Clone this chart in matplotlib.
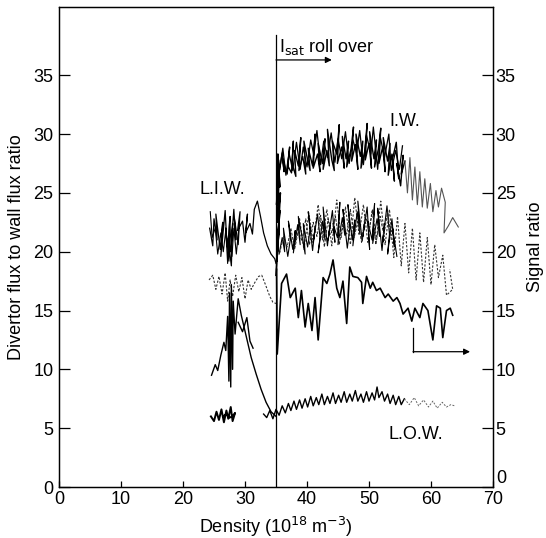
import matplotlib
matplotlib.use('Agg')
import matplotlib.pyplot as plt

plt.rcParams['font.family'] = ['Liberation Sans', 'DejaVu Sans']

# ---------------- data ----------------
x_ticks = [0, 10, 20, 30, 40, 50, 60, 70]
y_ticks = [0, 5, 10, 15, 20, 25, 30, 35]

# I.W. scribble (solid black), forward and backward passes
IW = [(35.2,26.0),(35.6,27.4),(35.4,26.4),(36.0,28.4),(36.3,26.8),(36.1,27.9),(36.8,26.6),(37.2,28.9),
      (36.9,27.3),(37.5,26.7),(37.8,29.4),(37.6,27.5),(38.2,26.4),(38.0,28.6),(38.6,27.3),(39.0,29.7),
      (38.7,26.9),(39.3,28.1),(39.8,26.6),(39.5,29.4),(40.1,27.8),(40.5,26.9),(40.2,28.8),(40.9,27.3),
      (41.3,30.0),(41.0,27.1),(41.7,28.3),(42.1,26.8),(41.8,29.2),(42.5,27.5),(42.9,29.6),(42.6,27.0),
      (43.2,28.6),(43.6,27.3),(43.3,30.4),(44.0,27.8),(44.4,26.9),(44.1,29.4),(44.8,28.3),(45.2,30.8),
      (44.9,27.5),(45.6,28.9),(46.0,27.1),(45.7,29.8),(46.3,27.9),(46.7,29.4),(46.4,27.2),(47.1,28.7),
      (47.5,30.6),(47.2,27.7),(47.8,29.1),(48.2,27.0),(47.9,30.0),(48.6,28.1),(49.0,29.4),(48.7,27.1),
      (49.3,28.5),(49.7,30.9),(49.4,27.8),(50.0,29.2),(50.4,27.1),(50.1,30.2),(50.8,27.9),(51.2,29.5),
      (50.9,27.2),(51.5,28.7),(51.9,30.5),(51.6,27.5),(52.2,28.9),(52.6,26.8),(52.3,29.7),(53.0,27.7),
      (53.4,29.2),(53.1,26.5),(53.7,28.3),(54.1,26.0),(53.8,27.9),(54.4,29.3),(54.8,26.2),(54.5,27.5),
      (55.1,25.6),(55.5,28.2),(55.2,26.6),(55.8,27.7)]
IW_back = [(55.4,29.0),(54.9,27.0),(54.3,28.6),(53.6,26.9),(53.2,30.0),(52.5,28.0),(51.8,29.8),(51.4,27.0),
           (50.7,30.6),(50.3,28.3),(49.6,29.9),(49.1,27.4),(48.5,30.3),(48.0,28.4),(47.4,29.5),(46.8,27.5),
           (46.2,30.2),(45.6,27.9),(45.0,29.6),(44.5,27.6),(43.9,30.1),(43.3,28.0),(42.7,29.4),(42.2,27.4),
           (41.6,30.3),(41.1,28.2),(40.6,29.5),(40.0,27.2),(39.4,28.9),(38.9,27.0),(38.3,29.3),(37.7,26.9),
           (37.1,28.4),(36.6,26.5),(36.1,28.8),(35.6,27.0)]

# I.W. tail (thin grey)
IW_tail = [(55.8,27.7),(56.2,25.0),(56.6,28.0),(57.0,24.4),(57.4,27.2),(57.8,24.0),(58.2,26.8),(58.6,23.8),
           (59.0,26.2),(59.4,23.7),(59.9,25.8),(60.3,23.4),(60.8,25.2),(61.2,23.8),(61.7,25.4),(62.3,24.2),
           (62.1,21.6),(62.8,22.2),(63.5,22.9),(64.4,22.1)]

# dense vertical cluster at the roll-over density
ROLL = [(35.0,18.0),(35.3,20.5),(35.1,19.2),(35.5,22.0),(35.2,20.0),(35.6,23.5),(35.3,21.0),(35.7,25.0),
        (35.2,22.5),(35.5,26.5),(35.1,24.0),(35.4,27.8),(35.6,25.5),(35.3,28.3),(35.5,26.0)]

# middle band (solid parts)
MID = [(35.5,19.8),(36.0,21.2),(36.4,20.0),(36.2,22.0),(36.9,19.6),(37.3,21.0),(37.0,22.6),(37.7,20.2),
       (38.1,21.8),(37.8,19.9),(38.5,22.3),(38.9,20.6),(38.6,23.0),(39.3,21.0),(39.7,19.8),(39.4,22.4),
       (40.1,20.4),(40.5,21.9),(40.2,23.4),(40.9,20.1),(41.3,22.0),(41.0,20.8),(41.7,23.2),(42.1,21.2),
       (41.8,19.9),(42.5,22.6),(42.9,21.0),(42.6,23.8),(43.3,20.5),(43.7,22.2),(43.4,21.0),(44.1,23.5),
       (44.5,20.8),(44.2,22.4),(44.9,21.2),(45.3,24.2),(45.0,20.6),(45.7,22.9),(46.1,21.4),(45.8,23.6),
       (46.5,20.3),(46.9,22.0),(46.6,24.0),(47.3,21.0),(47.7,22.7),(47.4,20.5),(48.1,23.4),(48.5,21.6),
       (48.2,24.3),(48.9,20.9),(49.3,22.5),(49.0,21.3),(49.7,23.8),(50.1,20.2),(49.8,22.6),(50.5,21.0),
       (50.9,24.1),(50.6,20.7),(51.3,22.8),(51.7,21.3),(51.4,23.7),(52.1,20.1),(52.5,22.4),(52.2,20.8),
       (52.9,23.9),(53.3,21.5),(53.0,19.8),(53.7,22.8),(54.1,20.4),(53.8,22.0),(54.5,19.6)]
MID_back = [(53.6,21.0),(53.0,23.4),(52.4,21.4),(51.8,23.0),(51.1,20.6),(50.6,23.6),(50.0,21.8),(49.4,23.2),
            (48.8,20.8),(48.2,22.6),(47.6,21.2),(47.0,23.6),(46.4,21.5),(45.8,22.4),(45.2,20.6),(44.6,23.0),
            (44.0,21.6),(43.4,22.8),(42.8,20.4),(42.2,23.1),(41.6,21.3),(41.0,22.5),(40.4,20.6),(39.8,22.8),
            (39.2,20.9),(38.6,21.8),(38.0,20.2),(37.4,22.0),(36.8,20.4),(36.2,21.3),(35.6,19.9)]

# middle band (dashed part)
MID_dash = [(38.0,20.5),(38.8,22.8),(39.5,20.2),(40.3,23.3),(41.0,20.8),(41.8,24.0),(42.5,21.0),(43.2,23.6),
            (44.0,20.5),(44.8,24.4),(45.5,21.2),(46.2,23.8),(47.0,20.6),(47.7,24.6),(48.4,21.4),(49.1,24.0),
            (49.8,20.8),(50.5,23.5),(51.2,21.0),(51.9,24.3),(52.6,20.6),(53.3,23.6),(54.0,19.5),(54.6,23.0),
            (55.2,18.8),(55.8,22.4),(56.4,18.2),(57.0,22.0),(57.6,17.6),(58.2,21.6),(58.8,17.4),(59.4,21.2),
            (60.0,17.2),(60.6,20.6),(61.2,17.8),(61.9,19.7),(62.5,16.3),(63.5,16.8),(63.0,18.5)]

# L.I.W. scribble (solid) and its decay to the roll-over line
LIW = [(24.3,22.0),(24.8,20.5),(25.0,22.8),(25.5,21.0),(25.3,23.2),(26.0,20.2),(26.4,22.5),(26.1,19.6),
       (26.8,23.5),(27.1,20.4),(26.9,22.0),(27.4,19.2),(27.6,23.0),(27.3,21.0),(27.8,18.8),(28.0,22.4),
       (27.7,20.0),(28.2,23.6),(28.5,21.0),(28.3,22.8),(28.9,20.6),(29.2,23.4),(28.8,21.8),(29.6,22.6),
       (30.0,20.8),(30.4,23.2),(30.1,21.6),(30.8,22.4),(31.2,21.5),(31.5,23.6),(32.0,24.3),(32.5,23.0),
       (33.0,21.6),(33.6,20.5),(34.2,19.8),(34.8,19.4),(35.0,19.0)]
LIW_back = [(29.0,22.0),(28.6,19.8),(28.2,22.0),(27.9,19.6),(27.5,22.6),(27.2,19.0),(26.9,21.8),(26.5,20.0),
            (26.1,21.6),(25.6,19.8),(25.2,22.0),(24.7,21.2),(24.4,23.4)]

# L.I.W. lower dashed scribble
LIW_dash = [(24.2,17.6),(24.8,18.0),(25.3,16.8),(25.8,17.9),(26.3,16.4),(26.8,18.2),(27.2,15.8),(27.6,17.6),
            (28.0,16.2),(28.5,18.0),(29.0,16.6),(29.5,17.8),(30.0,16.0),(30.5,17.6),(31.0,16.8),(31.6,17.4),
            (32.2,17.9),(32.7,18.0),(33.3,17.2),(34.0,16.2),(34.5,15.7),(35.0,15.6)]

# signal ratio trace (solid), left part, bump and right part
SIG_left = [(24.6,9.5),(25.2,10.4),(25.6,9.9),(26.1,11.2),(26.6,12.3),(26.9,11.6),(27.2,14.5),(27.4,9.0),
            (27.5,16.5),(27.7,8.5),(27.8,17.2),(28.0,10.0),(28.1,15.8),(28.4,13.0),(28.9,16.0),(29.4,14.6),
            (30.2,12.8),(31.0,11.0),(31.8,9.6),(32.6,8.3),(33.4,7.2),(34.2,6.4),(35.0,6.0)]
SIG_bump = [(28.9,14.0),(29.6,13.2),(30.3,14.4),(30.8,12.4),(31.3,11.8)]
SIG_right = [(35.1,18.5),(35.2,11.3),(35.9,17.3),(36.7,18.1),(37.3,16.1),(38.1,16.9),(38.6,14.4),(39.1,16.7),
             (39.7,13.6),(40.2,15.6),(40.8,13.3),(41.3,16.1),(41.8,12.5),(42.6,17.8),(43.2,17.3),(43.7,18.1),
             (44.2,19.3),(44.8,16.9),(45.3,16.1),(45.8,17.5),(46.4,13.9),(46.9,18.7),(47.4,17.9),(48.2,17.8),
             (48.8,17.4),(49.0,15.6),(49.6,17.9),(50.2,16.9),(50.6,17.4),(51.2,16.7),(51.8,16.9),(52.6,16.1),
             (53.1,16.4),(53.9,15.8),(54.5,16.1),(55.0,15.6),(55.5,14.7),(56.3,15.2),(56.9,14.1),(57.4,15.2),
             (58.2,14.4),(58.7,15.6),(59.5,15.0),(60.3,12.5),(60.9,15.4),(61.5,15.2),(61.9,12.7),(62.5,15.0),
             (63.1,15.2),(63.5,14.6)]

# L.O.W. scribbles
LOW_left = [(24.5,6.0),(25.0,5.6),(25.4,6.4),(25.8,5.7),(26.2,6.6),(26.6,5.5),(27.0,6.5),(27.3,5.8),
            (27.7,6.8),(28.0,5.6),(28.4,6.3),(28.0,6.0),(27.5,5.9),(27.0,6.2),(26.5,6.0)]
LOW_right = [(33.0,6.2),(33.5,5.9),(34.0,6.5),(34.5,5.8),(35.0,6.6),(35.5,6.1),(36.0,6.9),(36.5,6.3),
             (37.0,7.1),(37.4,6.5),(37.9,7.3),(38.3,6.6),(38.8,7.4),(39.2,6.7),(39.7,7.5),(40.1,6.8),
             (40.6,7.7),(41.0,6.9),(41.5,7.6),(41.9,7.0),(42.4,7.9),(42.8,7.0),(43.3,7.7),(43.7,7.1),
             (44.2,8.0),(44.6,7.1),(45.1,7.8),(45.5,7.2),(46.0,8.1),(46.4,7.2),(46.9,7.9),(47.3,7.3),
             (47.8,8.2),(48.2,7.3),(48.7,7.9),(49.1,7.2),(49.6,8.1),(50.0,7.3),(50.5,8.0),(50.9,7.4),
             (51.3,8.5),(51.6,7.6),(52.1,8.1),(52.5,7.3),(53.0,7.9),(53.4,7.1),(53.9,7.8),(54.3,7.0),
             (54.8,7.7),(55.2,7.0),(55.7,7.5)]
LOW_tail = [(55.7,7.5),(56.5,7.0),(57.3,7.6),(58.0,6.9),(58.8,7.4),(59.6,6.8),(60.3,7.3),(61.0,6.7),
            (61.8,7.2),(62.5,6.8),(63.2,7.0),(63.8,6.9)]

rollover_density = 35
trace_labels = [("I.W.", 55.8, 31.1), ("L.I.W.", 26.4, 25.3), ("L.O.W.", 57.6, 4.5)]

# ---------------- figure ----------------
W, H = 546, 538
fig = plt.figure(figsize=(W/100, H/100), dpi=100)
ax = fig.add_axes([59/W, 1-487/H, (493-59)/W, (487-7)/H])
ax.set_xlim(0, 70)
ax.set_ylim(0, 40.8)

def draw(pts, **kw):
    xs, ys = zip(*pts)
    ax.plot(xs, ys, **kw)

draw(LIW, color='black', lw=0.9)
draw(LIW_back, color='black', lw=0.8)
draw(LIW_dash, color='#333333', lw=0.8, ls=(0, (2, 1.5)))
draw(MID_dash, color='#333333', lw=0.8, ls=(0, (2, 1.5)))
draw(MID, color='black', lw=0.8)
draw(MID_back, color='#222222', lw=0.7, ls=(0, (3, 1.5)))
draw(IW, color='black', lw=1.0)
draw(IW_back, color='black', lw=0.9)
draw(IW_tail, color='#555555', lw=0.8)
draw(ROLL, color='black', lw=1.2)
draw(SIG_left, color='black', lw=1.0)
draw(SIG_bump, color='black', lw=1.0)
draw(SIG_right, color='black', lw=1.2)
draw(LOW_left, color='black', lw=1.4)
draw(LOW_right, color='black', lw=1.0)
draw(LOW_tail, color='#666666', lw=0.7, ls=(0, (2, 1.5)))

# roll-over line and annotation
ax.plot([rollover_density, rollover_density], [0, 38.4], color='black', lw=0.9)
ax.annotate('', xy=(44.0, 36.3), xytext=(rollover_density, 36.3),
            arrowprops=dict(arrowstyle='-|>', color='black', lw=0.9, mutation_scale=9,
                            shrinkA=0, shrinkB=0))
ax.text(35.5, 37.4, r'I$_{\mathrm{sat}}$ roll over', fontsize=13, ha='left', va='center')

# arrow pointing the signal trace to the right axis
ax.plot([57.1, 57.1], [13.5, 11.5], color='black', lw=0.9)
ax.annotate('', xy=(66.3, 11.5), xytext=(57.1, 11.5),
            arrowprops=dict(arrowstyle='-|>', color='black', lw=0.9, mutation_scale=9,
                            shrinkA=0, shrinkB=0))

for txt, tx, ty in trace_labels:
    ax.text(tx, ty, txt, fontsize=13, ha='center', va='center')

ax.set_xticks(x_ticks)
ax.set_xticklabels([str(v) for v in x_ticks])
ax.set_yticks(y_ticks)
ax.set_yticklabels([str(v) for v in y_ticks])
ax.tick_params(axis='y', direction='in', length=8, width=0.9, pad=4, labelsize=13)
ax.tick_params(axis='x', direction='in', length=4, width=0.9, pad=3, labelsize=13)
ax.set_xlabel(r'Density (10$^{18}$ m$^{-3}$)', fontsize=13, labelpad=5)
ax.set_ylabel('Divertor flux to wall flux ratio', fontsize=13, labelpad=6)
for s in ax.spines.values():
    s.set_linewidth(0.9)

ax2 = ax.twinx()
ax2.set_ylim(0, 40.8)
ax2.set_yticks(y_ticks)
ax2.set_yticklabels([str(v) for v in y_ticks])
ax2.tick_params(axis='y', direction='in', length=8, width=0.9, pad=2, labelsize=13)
ax2.set_ylabel('Signal ratio', fontsize=13, labelpad=8)
ax2.get_yticklabels()[0].set_verticalalignment('bottom')
for s in ax2.spines.values():
    s.set_linewidth(0.9)

fig.savefig('out.png', dpi=100)
